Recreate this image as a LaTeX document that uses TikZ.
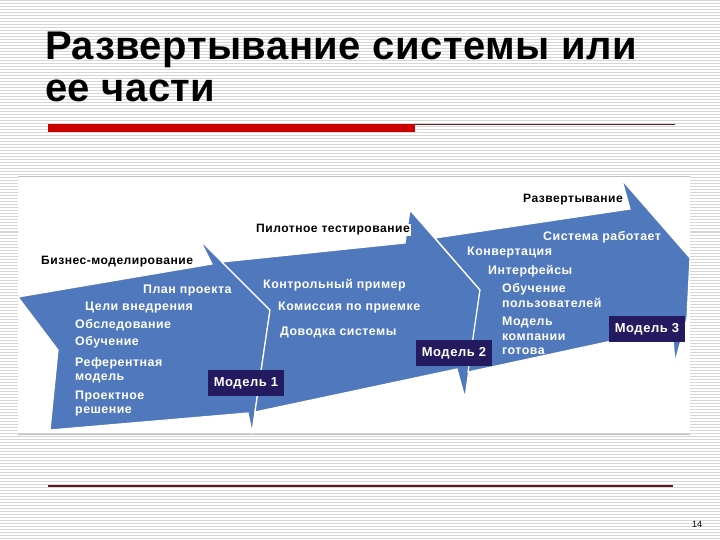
\documentclass[tikz,border=0pt]{standalone}
\usepackage{fontspec}
\setmainfont{Liberation Sans}
\newfontfamily\itemfont[LetterSpace=4]{Liberation Sans}
\newfontfamily\titlefont[LetterSpace=1.2]{Liberation Sans}
\usetikzlibrary{positioning}
\definecolor{stageblue}{RGB}{80,120,188}
\definecolor{modelnavy}{RGB}{36,26,96}
\definecolor{barred}{RGB}{204,0,0}
\definecolor{rulered}{RGB}{96,24,24}

\begin{document}
\begin{tikzpicture}[x=1pt,y=-1pt,
    stripe/.style={black!16,line width=1pt},
    stage/.style={fill=stageblue,draw=white,line width=1.2pt,line join=miter},
    item/.style={text=white,font=\itemfont\bfseries\fontsize{12.4}{14.5}\selectfont,inner sep=0pt,anchor=west,align=left},
    phase/.style={fill=white,font=\itemfont\bfseries\fontsize{12.1}{13}\selectfont,inner sep=1pt,anchor=west},
    modelbox/.style={fill=modelnavy,text=white,font=\itemfont\bfseries\fontsize{13}{13}\selectfont,minimum width=76pt,minimum height=26pt,inner sep=0pt}]
    \useasboundingbox (0,0) rectangle (720,540);
    % background
    \fill[white] (0,0) rectangle (720,540);
    \foreach \y in {1,4,...,540}
        \draw[stripe] (0,\y) -- (720,\y);
    % title
    \node[anchor=base west,inner sep=0pt,font=\titlefont\bfseries\fontsize{40}{40}\selectfont] (title1) at (45,60) {Развертывание системы или};
    \node[anchor=base west,inner sep=0pt,font=\titlefont\bfseries\fontsize{40}{40}\selectfont] (title2) at (45,102) {ее части};
    \fill[barred] (48,124) rectangle (415,132);
    \draw[rulered,line width=0.8pt] (415,124.5) -- (675,124.5);
    % diagram panel
    \fill[white] (18,177) rectangle (690,433);
    \draw[black!25,line width=0.8pt] (18,176) -- (690,176) (18,434) -- (690,434);
    % stages
    \draw[stage] (18,297) -- (212,264) -- (200,240) -- (270,310) -- (252,432) -- (248,413) -- (50,430) -- (58,350) -- cycle;
    \draw[stage] (222,262) -- (405,243) -- (410,210) -- (480,290) -- (465,398) -- (457,369) -- (255,412) -- (270,310) -- cycle;
    \draw[stage] (435,238) -- (630,209) -- (622,180) -- (690,258) -- (687,318) -- (675,362) -- (672,328) -- (468,372) -- (480,290) -- cycle;
    % phase names
    \node[phase] (bizmod) at (40,262) {Бизнес-моделирование};
    \node[phase] (pilot)  at (255,230) {Пилотное тестирование};
    \node[phase] (deploy) at (522,200) {Развертывание};
    % stage 1
    \node[item] (plan)   at (143,291) {План проекта};
    \node[item] (goals)  at (85,308)  {Цели внедрения};
    \node[item] (survey) at (75,325)  {Обследование};
    \node[item] (train)  at (75,342)  {Обучение};
    \node[item] (refmod) at (75,370)  {Референтная\\модель};
    \node[item] (design) at (75,403.5) {Проектное\\решение};
    % stage 2
    \node[item] (check)  at (263,285) {Контрольный пример};
    \node[item] (board)  at (278,308) {Комиссия по приемке};
    \node[item] (tune)   at (280,332) {Доводка системы};
    % stage 3
    \node[item] (works)  at (543,237) {Система работает};
    \node[item] (conv)   at (467,253) {Конвертация};
    \node[item] (iface)  at (488,271) {Интерфейсы};
    \node[item] (users)  at (502,295.5) {Обучение\\пользователей};
    \node[item] (ready)  at (502,336) {Модель\\компании\\готова};
    % models
    \node[modelbox] (m1) at (246,383) {Модель 1};
    \node[modelbox] (m2) at (454,353) {Модель 2};
    \node[modelbox] (m3) at (647,329) {Модель 3};
    % footer
    \draw[rulered,line width=1.2pt] (48,486) -- (673,486);
    \node[font=\fontsize{9}{9}\selectfont,inner sep=0pt] (page) at (697,524) {14};
\end{tikzpicture}
\end{document}
